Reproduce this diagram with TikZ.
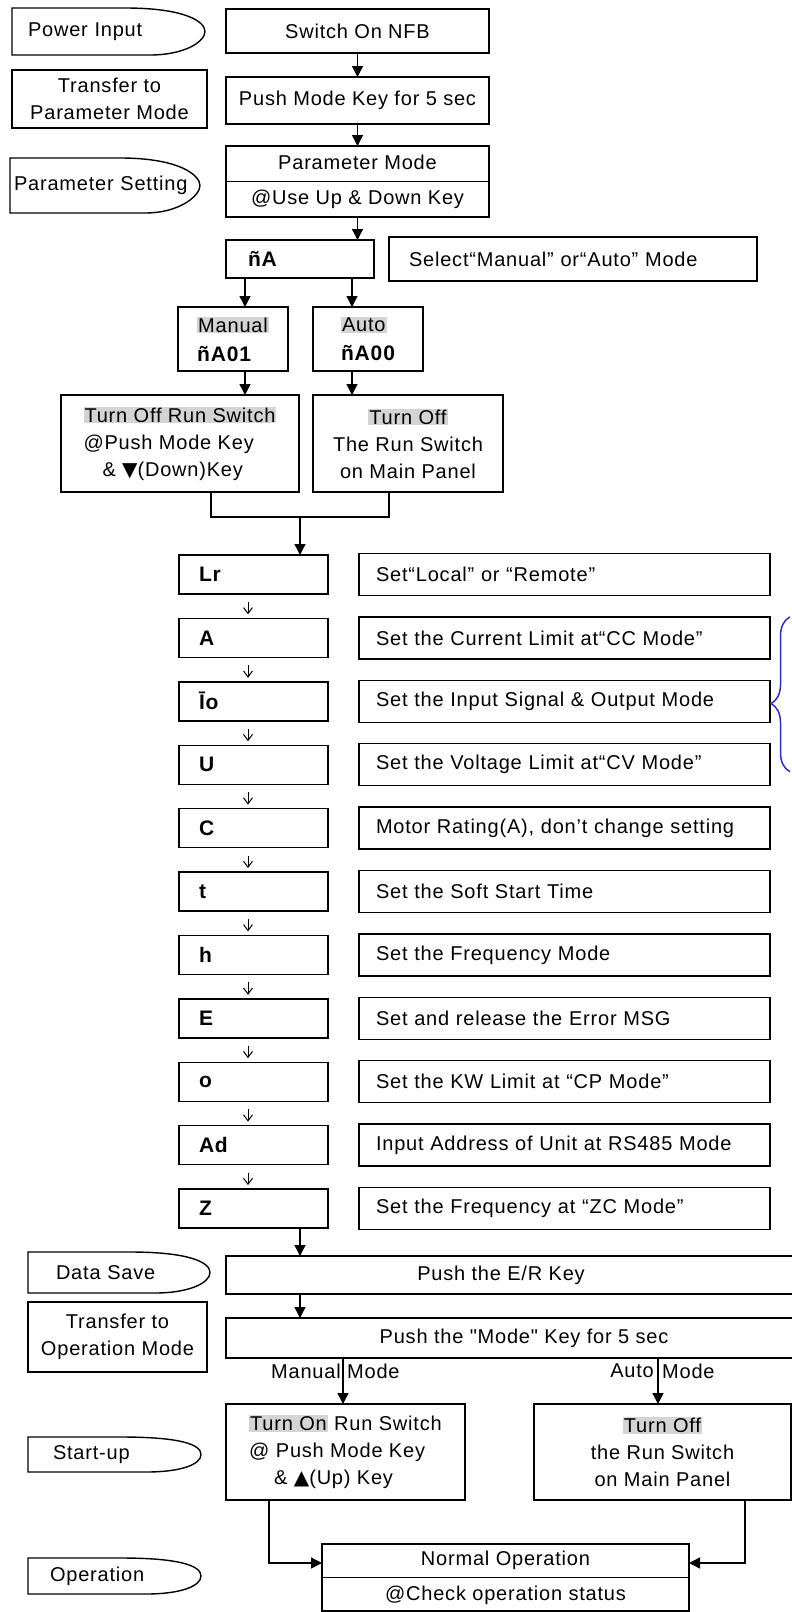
\documentclass[tikz,border=0pt]{standalone}
\usepackage{fontspec}
\newfontfamily\fcfont{Liberation Sans}[LetterSpace=4]
\newfontfamily\symfont{DejaVu Sans}
\usepackage{xcolor}
\usepackage{tikz}
\usetikzlibrary{arrows.meta, positioning, calc, decorations.pathreplacing}
\definecolor{fcGray}{RGB}{212,212,212}
\definecolor{fcBlue}{RGB}{48,48,176}
\newcommand{\graybg}[1]{{\setlength{\fboxsep}{1pt}\colorbox{fcGray}{#1}}}
% outline of a side tag: flat left part, rounded right end
\newcommand{\pennant}[1]{%
  \draw[line width=1.4pt] ([xshift=-80pt]#1.north east) -- (#1.north west)
    -- (#1.south west) -- ([xshift=-55pt]#1.south east)
    .. controls ([xshift=-20pt]#1.south east) and ([yshift=-10pt]#1.east) .. (#1.east)
    .. controls ([yshift=10pt]#1.east) and ([xshift=-20pt]#1.north east)
    .. ([xshift=-80pt]#1.north east);}

\begin{document}
\begin{tikzpicture}[x=1pt,y=-1pt,
  font=\fcfont\fontsize{20}{27}\selectfont,
  B/.style={draw,line width=1.4pt,outer sep=0pt,inner sep=0pt,align=center},
  L/.style={B,minimum height=39pt,text width=109pt,inner xsep=20pt,align=left,
            font=\fcfont\fontsize{21}{27}\selectfont\bfseries},
  D/.style={B,minimum height=42pt,text width=377pt,inner xsep=17pt,align=left},
  P/.style 2 args={inner ysep=0pt,inner xsep=#1,text width=#2,align=left,outer sep=0pt},
  ar/.style={line width=1.4pt,-{Triangle[length=11pt,width=11pt]}},
  tk/.style={line width=1pt,shorten <=8pt,shorten >=4pt,
             -{Straight Barb[length=6pt,width=9pt]}},
  ln/.style={line width=1.4pt},
  br/.style={draw=fcBlue,line width=1.5pt,decorate,
             decoration={brace,amplitude=19pt,aspect=0.44}}]

\path[use as bounding box,fill=white] (0,0) rectangle (792,1612);

% Parameter mode entry
\node[P={16pt}{161pt},minimum height=47pt] (pwr) at (108.5,31.5) {Power Input};
\node[B,minimum width=263pt,minimum height=44pt] (nfb) at (357.5,31) {Switch On NFB};
\node[B,minimum width=195pt,minimum height=58pt] (tpm) at (109.5,99) {Transfer to\\Parameter Mode};
\node[B,minimum width=263pt,minimum height=47pt,below=24pt of nfb] (pmk) {Push Mode Key for 5 sec};
\node[P={4pt}{182pt},minimum height=55pt] (pst) at (105,185.5) {Parameter Setting};
\node[B,minimum width=263pt,minimum height=71pt,below=22pt of pmk] (pmd)
   {Parameter Mode\\[8pt]@Use Up \& Down Key};
\draw[ln] (pmd.west) -- (pmd.east);
\pennant{pwr}
\pennant{pst}

\draw[ar] (nfb) -- (pmk);
\draw[ar] (pmk) -- (pmd);

% Manual / Auto choice
\node[L,text width=104pt,inner xsep=22pt,minimum height=38pt] (na) at (300,259) {ñA};
\node[D,text width=328pt,inner xsep=20pt,minimum height=44pt,right=15pt of na] (sel)
   {Select“Manual” or“Auto” Mode};
\node[B,minimum width=110pt,minimum height=64pt,align=left] (man) at (233,339)
   {\graybg{Manual}\\[2pt]{\fontsize{21}{27}\selectfont\bfseries ñA01}};
\node[B,minimum width=110pt,minimum height=64pt,align=left,right=25pt of man] (aut)
   {\graybg{Auto}\\[2pt]{\fontsize{21}{27}\selectfont\bfseries ñA00}};
\node[B,minimum width=238pt,minimum height=97pt,align=left] (tol) at (180,443.5)
   {\graybg{Turn Off Run Switch}\\@Push Mode Key\\\hspace*{19pt}\& {\symfont ▼}(Down)Key};
\node[B,minimum width=190pt,minimum height=97pt,right=14pt of tol] (tor)
   {\graybg{Turn Off}\\The Run Switch\\on Main Panel};

\coordinate (cm) at (245,0);
\coordinate (ca) at (352,0);
\coordinate (jn) at (300,517);
\draw[ar] (pmd.south) -- (pmd.south |- na.north);
\draw[ar] (na.south -| cm) -- (man.north -| cm);
\draw[ar] (na.south -| ca) -- (aut.north -| ca);
\draw[ar] (man.south -| cm) -- (tol.north -| cm);
\draw[ar] (aut.south -| ca) -- (tor.north -| ca);
\draw[ln] ([xshift=31pt]tol.south) |- (jn) -| ([xshift=-19pt]tor.south);

% Parameter list
\node[L] (lr) at (253.5,574.5) {Lr};
\node[L,below=24.4pt of lr]   (cur)  {A};
\node[L,below=24.4pt of cur]  (io)   {Īo};
\node[L,below=24.4pt of io]   (vol)  {U};
\node[L,below=24.4pt of vol]  (mot)  {C};
\node[L,below=24.4pt of mot]  (soft) {t};
\node[L,below=24.4pt of soft] (frq)  {h};
\node[L,below=24.4pt of frq]  (err)  {E};
\node[L,below=24.4pt of err]  (kw)   {o};
\node[L,below=24.4pt of kw]   (adr)  {Ad};
\node[L,below=24.4pt of adr]  (zc)   {Z};

\node[D,right=31pt of lr]   (dlr)   {Set“Local” or “Remote”};
\node[D,right=31pt of cur]  (dcur)  {Set the Current Limit at“CC Mode”};
\node[D,right=31pt of io]   (dio)   {Set the Input Signal \& Output Mode};
\node[D,right=31pt of vol]  (dvol)  {Set the Voltage Limit at“CV Mode”};
\node[D,right=31pt of mot]  (dmot)  {Motor Rating(A), don’t change setting};
\node[D,right=31pt of soft] (dsoft) {Set the Soft Start Time};
\node[D,right=31pt of frq]  (dfrq)  {Set the Frequency Mode};
\node[D,right=31pt of err]  (derr)  {Set and release the Error MSG};
\node[D,right=31pt of kw]   (dkw)   {Set the KW Limit at “CP Mode”};
\node[D,right=31pt of adr]  (dadr)  {Input Address of Unit at RS485 Mode};
\node[D,right=31pt of zc]   (dzc)   {Set the Frequency at “ZC Mode”};

\draw[ar] (jn) -- (jn |- lr.north);
\draw[tk] ([xshift=-5.5pt]lr.south)   -- ([xshift=-5.5pt]cur.north);
\draw[tk] ([xshift=-5.5pt]cur.south)  -- ([xshift=-5.5pt]io.north);
\draw[tk] ([xshift=-5.5pt]io.south)   -- ([xshift=-5.5pt]vol.north);
\draw[tk] ([xshift=-5.5pt]vol.south)  -- ([xshift=-5.5pt]mot.north);
\draw[tk] ([xshift=-5.5pt]mot.south)  -- ([xshift=-5.5pt]soft.north);
\draw[tk] ([xshift=-5.5pt]soft.south) -- ([xshift=-5.5pt]frq.north);
\draw[tk] ([xshift=-5.5pt]frq.south)  -- ([xshift=-5.5pt]err.north);
\draw[tk] ([xshift=-5.5pt]err.south)  -- ([xshift=-5.5pt]kw.north);
\draw[tk] ([xshift=-5.5pt]kw.south)   -- ([xshift=-5.5pt]adr.north);
\draw[tk] ([xshift=-5.5pt]adr.south)  -- ([xshift=-5.5pt]zc.north);

\draw[br] ([xshift=20pt,yshift=14pt]dvol.south east) -- ([xshift=20pt]dcur.north east);

% Save and return to operation
\node[P={28pt}{126pt},minimum height=41pt] (dsv) at (119,1272.5) {Data Save};
\node[B,minimum width=574pt,minimum height=38pt] (er) at (513,1275)
   {Push the E/R Key\hspace*{24pt}};
\node[B,minimum width=179pt,minimum height=70pt] (tom) at (117.5,1337) {Transfer to\\Operation Mode};
\node[B,minimum width=574pt,minimum height=40pt,below=24pt of er] (pm5)
   {\hspace*{22pt}Push the "Mode" Key for 5 sec};
\pennant{dsv}
\draw[ar] (zc.south -| jn) -- (er.north -| jn);
\draw[ar] (er.south -| jn) -- (pm5.north -| jn);

\node[B,minimum width=239pt,minimum height=96pt,align=left] (ton) at (345.5,1452)
   {\graybg{Turn On} Run Switch\\@ Push Mode Key\\\hspace*{25pt}\& {\symfont ▲}(Up) Key};
\node[B,minimum width=257pt,minimum height=96pt] (tof) at (662.5,1452)
   {\graybg{Turn Off}\\the Run Switch\\on Main Panel};
\coordinate (mx) at (343,0);
\coordinate (ax) at (658,0);
\draw[ar] (pm5.south -| mx) -- (ton.north -| mx);
\draw[ar] (pm5.south -| ax) -- (tof.north -| ax);
\node[anchor=east,inner sep=0pt] (mml) at (341,1371) {Manual};
\node[anchor=west,inner sep=0pt] (mmr) at (347,1371) {Mode};
\node[anchor=east,inner sep=0pt] (aml) at (654,1371) {Auto};
\node[anchor=west,inner sep=0pt] (amr) at (662,1371) {Mode};

\node[P={25pt}{123pt},minimum height=35pt] (sup) at (114.5,1454.5) {Start-up};
\node[B,minimum width=367pt,minimum height=67pt] (nop) at (505.5,1577.5)
   {Normal Operation\\[8pt]@Check operation status};
\draw[ln] (nop.west) -- (nop.east);
\node[P={22pt}{129pt},minimum height=36pt] (opr) at (114.5,1576) {Operation};
\pennant{sup}
\pennant{opr}
\draw[ar] ([xshift=-76.5pt]ton.south) |- ([yshift=14.5pt]nop.west);
\draw[ar] ([xshift=82.5pt]tof.south) |- ([yshift=14.5pt]nop.east);
\end{tikzpicture}
\end{document}
